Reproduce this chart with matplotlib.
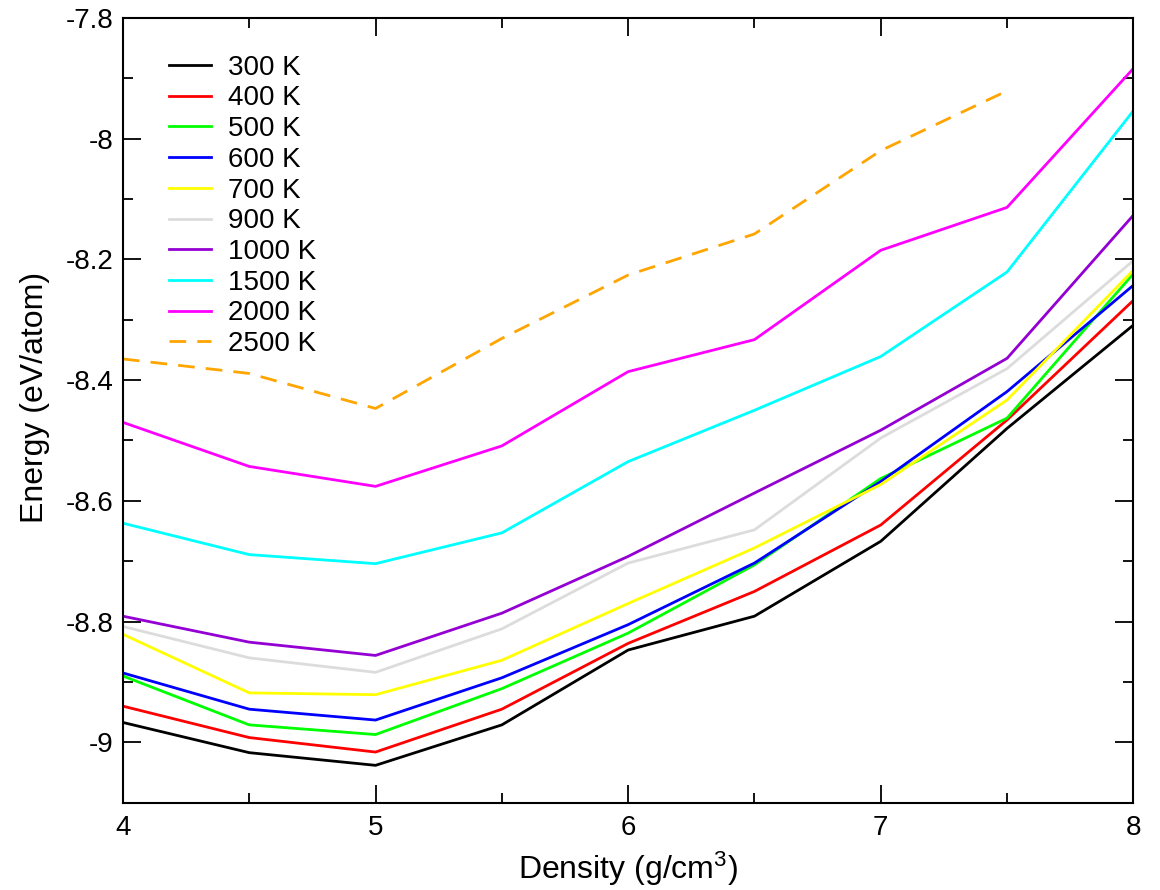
import matplotlib
matplotlib.use("Agg")
import matplotlib.pyplot as plt
from matplotlib.ticker import MultipleLocator

plt.rcParams['font.family'] = ['Liberation Sans', 'DejaVu Sans']
plt.rcParams['mathtext.fontset'] = 'custom'
plt.rcParams['mathtext.rm'] = 'Liberation Sans'
plt.rcParams['mathtext.it'] = 'Liberation Sans'

density = [4.0, 4.5, 5.0, 5.5, 6.0, 6.5, 7.0, 7.5, 8.0]

e300 = [-8.967, -9.017, -9.038, -8.971, -8.847, -8.791, -8.667, -8.480, -8.309]
e400 = [-8.940, -8.992, -9.016, -8.945, -8.836, -8.750, -8.640, -8.466, -8.268]
e500 = [-8.890, -8.971, -8.987, -8.911, -8.819, -8.706, -8.563, -8.463, -8.224]
e600 = [-8.885, -8.945, -8.963, -8.893, -8.805, -8.703, -8.568, -8.419, -8.243]
e700 = [-8.821, -8.918, -8.921, -8.864, -8.770, -8.678, -8.573, -8.433, -8.218]
e900 = [-8.808, -8.860, -8.884, -8.812, -8.703, -8.648, -8.496, -8.381, -8.202]
e1000 = [-8.791, -8.834, -8.856, -8.786, -8.692, -8.587, -8.483, -8.364, -8.127]
e1500 = [-8.637, -8.689, -8.704, -8.653, -8.535, -8.450, -8.361, -8.221, -7.954]
e2000 = [-8.470, -8.543, -8.576, -8.509, -8.386, -8.333, -8.185, -8.114, -7.884]
density_2500 = [4.0, 4.5, 5.0, 5.5, 6.0, 6.5, 7.0, 7.5]
e2500 = [-8.365, -8.389, -8.447, -8.331, -8.226, -8.158, -8.020, -7.921]

labels = ['300 K', '400 K', '500 K', '600 K', '700 K', '900 K',
          '1000 K', '1500 K', '2000 K']
series = [e300, e400, e500, e600, e700, e900, e1000, e1500, e2000]
colors = ['black', '#ff0000', '#00ff00', '#0000ff', '#ffff00', '#dcdcdc',
          '#9400d3', '#00ffff', '#ff00ff']

fig = plt.figure(figsize=(11.6, 8.9), dpi=100)
ax = fig.add_axes([0.106, 0.098, 0.871, 0.882])

for vals, lab, col in zip(series, labels, colors):
    ax.plot(density, vals, color=col, lw=2.0, label=lab)
ax.plot(density_2500, e2500, color='#ffa500', lw=2.0, dashes=(6, 4),
        label='2500 K')

ax.set_xlim(4, 8)
ax.set_ylim(-9.1, -7.8)
ax.xaxis.set_major_locator(MultipleLocator(1))
ax.xaxis.set_minor_locator(MultipleLocator(0.5))
ax.yaxis.set_major_locator(MultipleLocator(0.2))
ax.yaxis.set_minor_locator(MultipleLocator(0.1))
ax.yaxis.set_major_formatter(plt.FuncFormatter(lambda v, p: '%g' % round(v, 2)))

ax.tick_params(which='both', direction='in', top=True, right=True, width=1.3)
ax.tick_params(which='major', length=13, labelsize=20)
ax.tick_params(which='minor', length=7)
ax.tick_params(axis='x', pad=9)
ax.tick_params(axis='y', pad=7)
for sp in ax.spines.values():
    sp.set_linewidth(1.5)

ax.set_xlabel('Density (g/cm$^3$)', fontsize=23, labelpad=6)
ax.set_ylabel('Energy (eV/atom)', fontsize=23)
ax.yaxis.set_label_coords(-0.072, 0.517)

ax.legend(loc='upper left', bbox_to_anchor=(0.046, 0.953), frameon=False,
          fontsize=20, handlelength=1.5, handletextpad=0.6, labelspacing=0.17,
          borderpad=0, borderaxespad=0)

fig.savefig('out.png', dpi=100)
